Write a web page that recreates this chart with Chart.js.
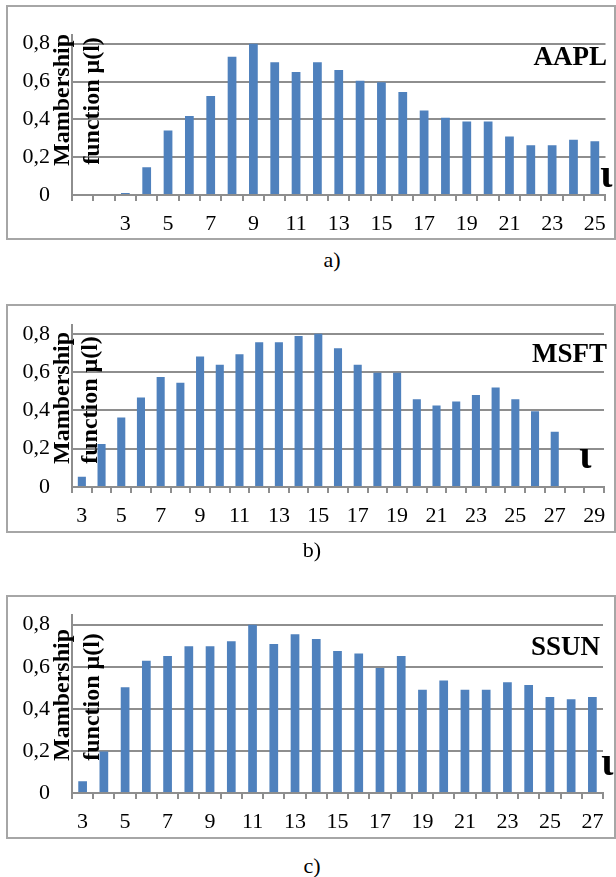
<!DOCTYPE html>
<html>
<head>
<meta charset="utf-8">
<script src="https://cdn.jsdelivr.net/npm/chart.js@4.4.1/dist/chart.umd.min.js"></script>
<style>
  body { margin: 0; background: #fff; width: 616px; height: 877px; position: relative; overflow: hidden; }
  .panel { position: absolute; left: 0; width: 616px; }
  .frame { position: absolute; border: 2px solid #a6a6a6; box-sizing: border-box; }
  .cap { position: absolute; width: 100px; text-align: center; font: 22px "Liberation Serif", serif; line-height: 26px; color: #000; }
  canvas { position: absolute; left: 0; top: 0; }
</style>
</head>
<body>
<div class="frame" style="left:6px;top:5px;width:610px;height:235px"></div>
<div class="frame" style="left:6px;top:304px;width:610px;height:229px"></div>
<div class="frame" style="left:6px;top:595px;width:610px;height:244px"></div>

<div class="panel" style="top:0;height:245px"><canvas id="aapl" width="616" height="245"></canvas></div>
<div class="panel" style="top:290px;height:250px"><canvas id="msft" width="616" height="250"></canvas></div>
<div class="panel" style="top:580px;height:260px"><canvas id="ssun" width="616" height="260"></canvas></div>

<div class="cap" style="left:282px;top:247px">a)</div>
<div class="cap" style="left:262px;top:537px">b)</div>
<div class="cap" style="left:262px;top:853px">c)</div>

<script>
// values
const aaplCategories = ['1','2','3','4','5','6','7','8','9','10','11','12','13','14','15','16','17','18','19','20','21','22','23','24','25'];
const aaplTickLabels = ['','','3','','5','','7','','9','','11','','13','','15','','17','','19','','21','','23','','25'];
const aaplValues = [0, 0, 0.01, 0.147, 0.341, 0.418, 0.524, 0.731, 0.8, 0.702, 0.651, 0.702, 0.661, 0.604, 0.596, 0.545, 0.447, 0.408, 0.389, 0.389, 0.31, 0.263, 0.263, 0.292, 0.284];

const msftCategories = ['3','4','5','6','7','8','9','10','11','12','13','14','15','16','17','18','19','20','21','22','23','24','25','26','27','28','29'];
const msftTickLabels = ['3','','5','','7','','9','','11','','13','','15','','17','','19','','21','','23','','25','','27','','29'];
const msftValues = [0.053, 0.224, 0.363, 0.468, 0.575, 0.544, 0.681, 0.639, 0.693, 0.756, 0.756, 0.788, 0.8, 0.725, 0.639, 0.597, 0.597, 0.458, 0.425, 0.447, 0.48, 0.52, 0.458, 0.395, 0.288, 0.005, 0.005];

const ssunCategories = ['3','4','5','6','7','8','9','10','11','12','13','14','15','16','17','18','19','20','21','22','23','24','25','26','27'];
const ssunTickLabels = ['3','','5','','7','','9','','11','','13','','15','','17','','19','','21','','23','','25','','27'];
const ssunValues = [0.056, 0.197, 0.502, 0.629, 0.651, 0.697, 0.697, 0.721, 0.8, 0.708, 0.755, 0.732, 0.675, 0.663, 0.594, 0.651, 0.491, 0.535, 0.491, 0.491, 0.526, 0.513, 0.456, 0.445, 0.456];

const yTickLabels = ['0', '0,2', '0,4', '0,6', '0,8'];

Chart.defaults.font.family = '"Liberation Serif", serif';
Chart.defaults.font.size = 22;
Chart.defaults.color = '#000';

const GRID = '#8e8e8e';

const overlay = {
  id: 'overlay',
  afterDraw(chart, args, o) {
    const c = chart.ctx;
    c.save();
    c.fillStyle = '#000';
    // series name
    c.font = 'bold 27px "Liberation Serif", serif';
    c.textAlign = 'right';
    c.textBaseline = 'alphabetic';
    c.fillText(o.name, o.nameX, o.nameY);
    // axis letter
    c.font = 'bold 40px "Liberation Serif", serif';
    c.textAlign = 'left';
    c.fillText('ι', o.iotaX, o.iotaY);
    // y title, two rotated lines
    c.font = 'bold 24px "Liberation Serif", serif';
    c.textAlign = 'center';
    c.translate(o.t1X, o.t1Y);
    c.rotate(-Math.PI / 2);
    c.fillText('Mambership', 0, 0);
    c.restore();
    c.save();
    c.fillStyle = '#000';
    c.font = 'bold 24px "Liberation Serif", serif';
    c.textAlign = 'center';
    c.translate(o.t2X, o.t2Y);
    c.rotate(-Math.PI / 2);
    c.fillText('function μ(l)', 0, 0);
    c.restore();
  }
};

function makeChart(id, categories, tickLabels, values, pad, marks) {
  new Chart(document.getElementById(id), {
    type: 'bar',
    data: {
      labels: categories,
      datasets: [{
        data: values,
        backgroundColor: '#4f81bd',
        borderWidth: 0,
        barPercentage: 0.41,
        categoryPercentage: 1
      }]
    },
    options: {
      responsive: false,
      animation: false,
      devicePixelRatio: 1,
      layout: { padding: pad },
      plugins: { legend: { display: false }, tooltip: { enabled: false }, overlay: marks },
      scales: {
        x: {
          afterFit: s => { s.height = 40; },
          grid: { display: true, drawOnChartArea: false, drawTicks: true, tickLength: 6, color: GRID, lineWidth: 2, offset: true },
          border: { display: true, color: GRID, width: 2 },
          ticks: {
            autoSkip: false, maxRotation: 0, padding: 10,
            callback: (v, i) => tickLabels[i]
          }
        },
        y: {
          min: 0, max: 0.845,
          afterFit: s => { s.width = 72; },
          grid: { color: GRID, lineWidth: 2, drawTicks: false },
          border: { display: true, color: GRID, width: 2 },
          ticks: {
            stepSize: 0.2, includeBounds: false, padding: 22,
            callback: (v, i) => yTickLabels[i]
          }
        }
      }
    },
    plugins: [overlay]
  });
}

makeChart('aapl', aaplCategories, aaplTickLabels, aaplValues,
  { left: 0, right: 9, top: 23, bottom: 10 },
  { name: 'AAPL', nameX: 607, nameY: 65, iotaX: 600, iotaY: 187, t1X: 69, t1Y: 100, t2X: 99, t2Y: 101 });

makeChart('msft', msftCategories, msftTickLabels, msftValues,
  { left: 0, right: 12, top: 30, bottom: 13 },
  { name: 'MSFT', nameX: 607, nameY: 72, iotaX: 579, iotaY: 178, t1X: 69, t1Y: 108, t2X: 97, t2Y: 110 });

makeChart('ssun', ssunCategories, ssunTickLabels, ssunValues,
  { left: 0, right: 13, top: 32, bottom: 7 },
  { name: 'SSUN', nameX: 600, nameY: 75, iotaX: 601, iotaY: 195, t1X: 69, t1Y: 115, t2X: 99, t2Y: 117 });
</script>
</body>
</html>
